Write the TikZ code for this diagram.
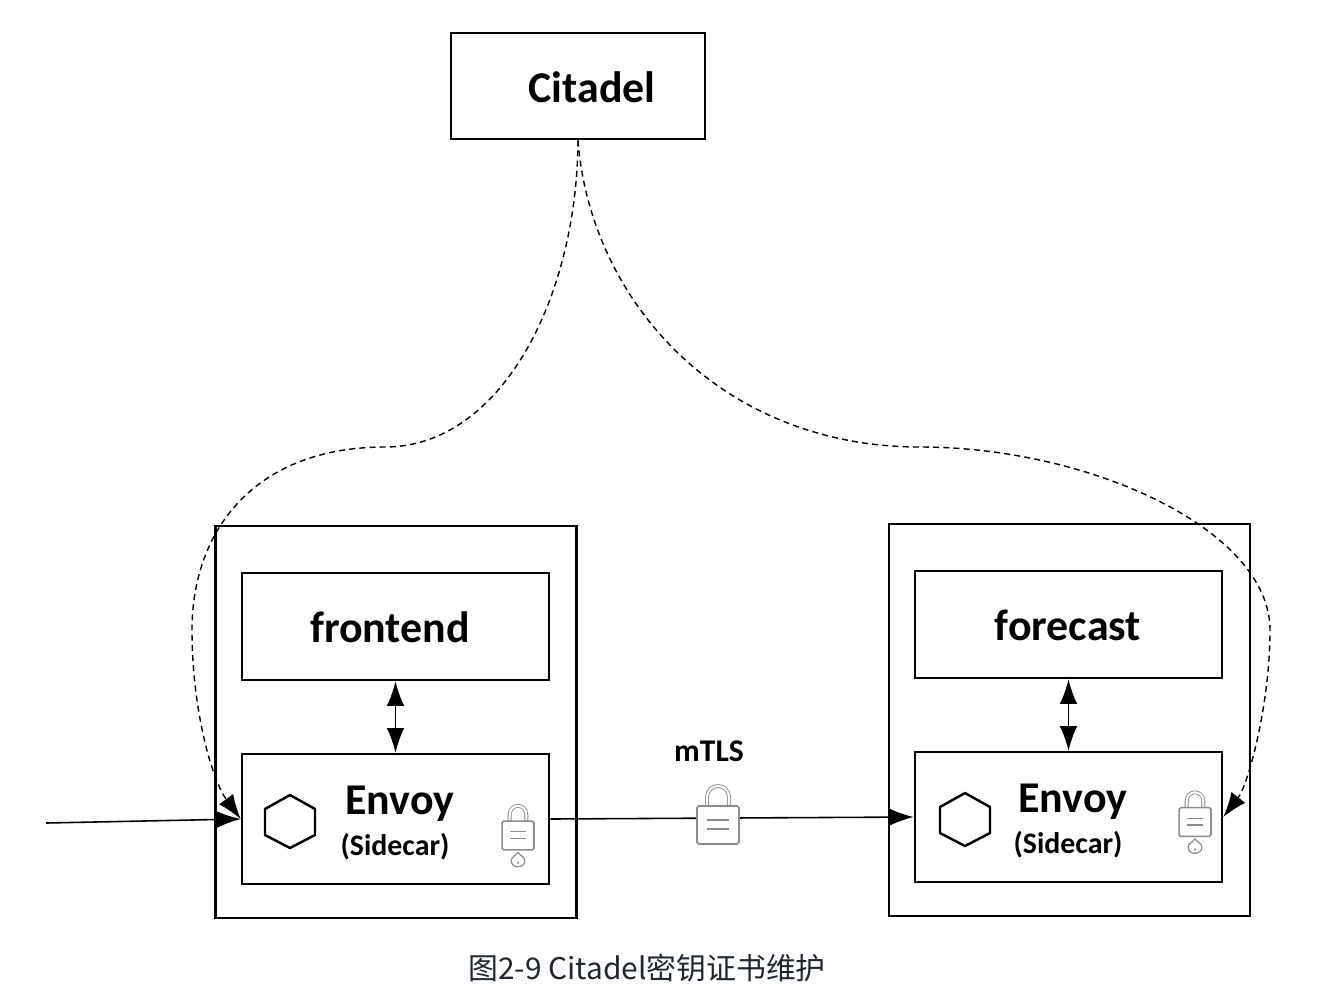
\documentclass[tikz,border=0pt]{standalone}
\usepackage{fontspec}
\setmainfont{Carlito}
\newfontfamily\cjk{Noto Sans CJK SC}
\usetikzlibrary{arrows.meta}
\definecolor{lockgray}{gray}{.55}
\definecolor{captionink}{RGB}{30,38,48}
\newcommand{\lockbody}{%
  \draw[lockgray,line width=.5pt,double=white,double distance=1.2pt]
    (-11,-19)--(-11,-27) .. controls (-11,-43) and (11,-43) .. (11,-27)--(11,-19);
  \draw[lockgray,line width=.9pt,fill=white,rounded corners=1pt] (-21,-19) rectangle (21,19);
  \draw[lockgray,line width=.7pt] (-11,-5)--(11,-5) (-11,4)--(11,4);
}
\tikzset{
  podbox/.style={draw,line width=1.5pt,minimum width=7.22cm,minimum height=7.84cm,inner sep=0pt},
  appbox/.style={draw,line width=1.5pt,minimum width=6.14cm,inner sep=0pt},
  title/.style={font=\bfseries\fontsize{25}{27}\selectfont},
  subtitle/.style={font=\bfseries\fontsize{17}{19}\selectfont},
  hexa/.style={draw,line width=1.4pt,line join=round},
  conn/.style={line width=.9pt},
  certline/.style={line width=.8pt,dash pattern=on 3.4pt off 2.4pt},
  padlock/.pic={\lockbody},
  keylock/.pic={
    \lockbody
    \draw[lockgray,line width=.7pt] (0,22) .. controls (3,27) and (9,28) .. (9,33)
      .. controls (9,44) and (-9,44) .. (-9,33) .. controls (-9,28) and (-3,27) .. (0,22);
    \fill[lockgray] (0,36) circle[radius=1pt];
  }
}
\begin{document}
\begin{tikzpicture}[x=.02cm,y=-.02cm,>={Latex[length=14pt,width=10pt]}]
\useasboundingbox (0,0) rectangle (1318,988);
% citadel
\node[appbox,minimum width=5.08cm,minimum height=2.12cm] (citadel) at (578,86) {};
\node[title] (citadelname) at (592,87) {Citadel};
% left pod
\node[podbox] (podA) at (396,722) {};
\node[appbox,minimum height=2.14cm] (frontend) at (395.5,626.5) {};
\node[title] (frontendname) at (390,627) {frontend};
\node[appbox,minimum height=2.6cm] (envoyA) at (395.5,819) {};
\node[title] (envoyAname) at (400,804) {Envoy};
\node[subtitle] (sidecarA) at (395,847) {(Sidecar)};
\draw[hexa] (290,795)--(315,809)--(315,835)--(290,848)--(265,835)--(265,809)--cycle;
\pic[scale=.76] (lockA) at (518,835.5) {keylock};
% right pod
\node[podbox] (podB) at (1069.5,720) {};
\node[appbox,minimum height=2.14cm] (forecast) at (1068.5,624.5) {};
\node[title] (forecastname) at (1068,625) {forecast};
\node[appbox,minimum height=2.6cm] (envoyB) at (1068.5,817) {};
\node[title] (envoyBname) at (1073,802) {Envoy};
\node[subtitle] (sidecarB) at (1068,845) {(Sidecar)};
\draw[hexa] (965,793)--(990,807)--(990,833)--(965,846)--(940,833)--(940,807)--cycle;
\pic[scale=.76] (lockB) at (1195,822) {keylock};
% traffic
\coordinate (ingress) at (46,823);
\draw[->,conn] (ingress)--(envoyA.west);
\draw[->,conn] (envoyA.east)--(envoyB.west);
\draw[<->,conn] (frontend.south)--(envoyA.north);
\draw[<->,conn] (forecast.south)--(envoyB.north);
\node[subtitle,font=\bfseries\fontsize{18}{20}\selectfont] (mtls) at (709,751) {mTLS};
\pic (lockC) at (718,825) {padlock};
% certificates
\draw[->,certline] (citadel.south) .. controls (577,300) and (500,447) .. (385,447)
  .. controls (255,447) and (192,530) .. (192,630)
  .. controls (192,710) and (212,780) .. (envoyA.west);
\draw[->,certline] (citadel.south) .. controls (590,300) and (720,447) .. (920,447)
  .. controls (1090,447) and (1270,530) .. (1270,630)
  .. controls (1270,705) and (1248,785) .. (envoyB.east);
\node[font=\cjk\fontsize{17}{19}\selectfont,text=captionink] (caption) at (647,968) {图2-9 Citadel密钥证书维护};
\end{tikzpicture}
\end{document}
